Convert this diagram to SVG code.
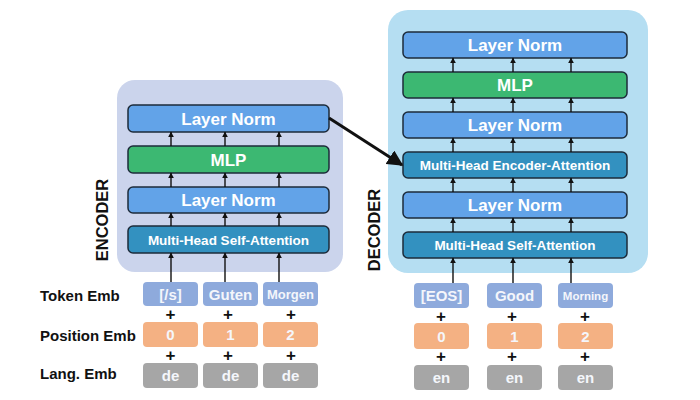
<svg xmlns="http://www.w3.org/2000/svg" width="700" height="400" viewBox="0 0 700 400">
<style>
text{font-family:"Liberation Sans",Arial,sans-serif;font-weight:bold}
.ln{fill:#62a3e8;stroke:#1d2b3a;stroke-width:1.5}
.mlp{fill:#3cb872;stroke:#1d2b3a;stroke-width:1.5}
.att{fill:#3391c0;stroke:#1d2b3a;stroke-width:1.5}
.bt{fill:#fff;font-size:17px;text-anchor:middle}
.bs{fill:#fff;font-size:13.5px;text-anchor:middle}
.tok{fill:#8eaadc}
.pos{fill:#f4b183}
.lang{fill:#a6a6a6}
.tt{fill:#f4f6fb;font-size:15px;text-anchor:middle}
.lbl{fill:#111;font-size:15px}
.plus{fill:#111;font-size:17px;text-anchor:middle}
.a{stroke:#111;stroke-width:1.4;fill:none;marker-end:url(#ah)}
.side{fill:#111;font-size:16.5px;text-anchor:middle}
</style>
<defs>
<marker id="ah" viewBox="0 0 10 10" refX="9" refY="5" markerWidth="6" markerHeight="6" orient="auto" markerUnits="userSpaceOnUse">
<path d="M0,0 L10,5 L0,10 z" fill="#111"/>
</marker>
<marker id="big" viewBox="0 0 10 10" refX="9" refY="5" markerWidth="16" markerHeight="16" orient="auto" markerUnits="userSpaceOnUse">
<path d="M0,0 L10,5 L0,10 z" fill="#111"/>
</marker>
</defs>
<rect width="700" height="400" fill="#fff"/>

<g id="encoder">
<rect x="117" y="80" width="226" height="192" rx="18" fill="#cbd4ec"/>
<text class="side" transform="translate(108,220) rotate(-90)">ENCODER</text>
</g>
<g id="enc-ln2"><rect class="ln" x="128" y="105" width="201" height="27" rx="5"/><text class="bt" x="228.5" y="124.5">Layer Norm</text></g>
<g id="enc-mlp"><rect class="mlp" x="128" y="146" width="201" height="27" rx="5"/><text class="bt" x="228.5" y="165.5">MLP</text></g>
<g id="enc-ln1"><rect class="ln" x="128" y="187" width="201" height="26" rx="5"/><text class="bt" x="228.5" y="206">Layer Norm</text></g>
<g id="enc-mhsa"><rect class="att" x="128" y="226" width="201" height="27" rx="5"/><text class="bs" x="228.5" y="244.5">Multi-Head Self-Attention</text></g>

<g id="decoder">
<rect x="388" y="10" width="260" height="263" rx="20" fill="#b5def2"/>
<text class="side" transform="translate(380,230) rotate(-90)">DECODER</text>
</g>
<g id="dec-ln3"><rect class="ln" x="403" y="32" width="224" height="26" rx="5"/><text class="bt" x="515" y="51">Layer Norm</text></g>
<g id="dec-mlp"><rect class="mlp" x="403" y="72" width="224" height="26" rx="5"/><text class="bt" x="515" y="91">MLP</text></g>
<g id="dec-ln2"><rect class="ln" x="403" y="112" width="224" height="26" rx="5"/><text class="bt" x="515" y="131">Layer Norm</text></g>
<g id="dec-mhea"><rect class="att" x="403" y="152" width="224" height="26" rx="5"/><text class="bs" x="515" y="170">Multi-Head Encoder-Attention</text></g>
<g id="dec-ln1"><rect class="ln" x="403" y="192" width="224" height="26" rx="5"/><text class="bt" x="515" y="211">Layer Norm</text></g>
<g id="dec-mhsa"><rect class="att" x="403" y="232" width="224" height="26" rx="5"/><text class="bs" x="515" y="250">Multi-Head Self-Attention</text></g>

<g id="labels">
<text class="lbl" x="40" y="301">Token Emb</text>
<text class="lbl" x="40" y="341">Position Emb</text>
<text class="lbl" x="40" y="379">Lang. Emb</text>
</g>

<g id="enc-inputs">
<rect class="tok" x="143" y="282" width="55" height="24" rx="4"/><text class="tt" x="170.5" y="299.5">[/s]</text>
<rect class="tok" x="203" y="282" width="55" height="24" rx="4"/><text class="tt" x="230.5" y="299.5">Guten</text>
<rect class="tok" x="263" y="282" width="55" height="24" rx="4"/><text class="tt" x="290.5" y="299" style="font-size:13px">Morgen</text>
<rect class="pos" x="143" y="322" width="55" height="25" rx="4"/><text class="tt" x="170.5" y="340">0</text>
<rect class="pos" x="203" y="322" width="55" height="25" rx="4"/><text class="tt" x="230.5" y="340">1</text>
<rect class="pos" x="263" y="322" width="55" height="25" rx="4"/><text class="tt" x="290.5" y="340">2</text>
<rect class="lang" x="143" y="363" width="55" height="25" rx="4"/><text class="tt" x="170.5" y="381">de</text>
<rect class="lang" x="203" y="363" width="55" height="25" rx="4"/><text class="tt" x="230.5" y="381">de</text>
<rect class="lang" x="263" y="363" width="55" height="25" rx="4"/><text class="tt" x="290.5" y="381">de</text>
<text class="plus" x="170.5" y="320">+</text><text class="plus" x="228" y="320">+</text><text class="plus" x="291" y="320">+</text>
<text class="plus" x="170.5" y="361">+</text><text class="plus" x="228" y="361">+</text><text class="plus" x="291" y="361">+</text>
</g>

<g id="dec-inputs">
<rect class="tok" x="414" y="283" width="55" height="25" rx="4"/><text class="tt" x="441.5" y="301">[EOS]</text>
<rect class="tok" x="487" y="283" width="55" height="25" rx="4"/><text class="tt" x="514.5" y="301">Good</text>
<rect class="tok" x="558" y="283" width="55" height="25" rx="4"/><text class="tt" x="585.5" y="300" style="font-size:11.5px">Morning</text>
<rect class="pos" x="414" y="323" width="55" height="26" rx="4"/><text class="tt" x="441.5" y="341.5">0</text>
<rect class="pos" x="487" y="323" width="55" height="26" rx="4"/><text class="tt" x="514.5" y="341.5">1</text>
<rect class="pos" x="558" y="323" width="55" height="26" rx="4"/><text class="tt" x="585.5" y="341.5">2</text>
<rect class="lang" x="414" y="365" width="55" height="25" rx="4"/><text class="tt" x="441.5" y="383">en</text>
<rect class="lang" x="487" y="365" width="55" height="25" rx="4"/><text class="tt" x="514.5" y="383">en</text>
<rect class="lang" x="558" y="365" width="55" height="25" rx="4"/><text class="tt" x="585.5" y="383">en</text>
<text class="plus" x="441" y="322">+</text><text class="plus" x="512" y="322">+</text><text class="plus" x="585" y="322">+</text>
<text class="plus" x="441" y="362">+</text><text class="plus" x="512" y="362">+</text><text class="plus" x="585" y="362">+</text>
</g>

<g id="connectors">
<path class="a" d="M171,282 V253"/><path class="a" d="M225,282 V253"/><path class="a" d="M279,282 V253"/>
<path class="a" d="M171,226 V213"/><path class="a" d="M225,226 V213"/><path class="a" d="M279,226 V213"/>
<path class="a" d="M171,187 V173"/><path class="a" d="M225,187 V173"/><path class="a" d="M279,187 V173"/>
<path class="a" d="M171,146 V132"/><path class="a" d="M225,146 V132"/><path class="a" d="M279,146 V132"/>
<path class="a" d="M453,283 V258"/><path class="a" d="M513,283 V258"/><path class="a" d="M571,283 V258"/>
<path class="a" d="M453,232 V218"/><path class="a" d="M513,232 V218"/><path class="a" d="M571,232 V218"/>
<path class="a" d="M453,192 V178"/><path class="a" d="M513,192 V178"/><path class="a" d="M571,192 V178"/>
<path class="a" d="M453,152 V138"/><path class="a" d="M513,152 V138"/><path class="a" d="M571,152 V138"/>
<path class="a" d="M453,112 V98"/><path class="a" d="M513,112 V98"/><path class="a" d="M571,112 V98"/>
<path class="a" d="M453,72 V58"/><path class="a" d="M513,72 V58"/><path class="a" d="M571,72 V58"/>
<path d="M329,118 L402,165" stroke="#111" stroke-width="3" fill="none" marker-end="url(#big)"/>
</g>
</svg>
